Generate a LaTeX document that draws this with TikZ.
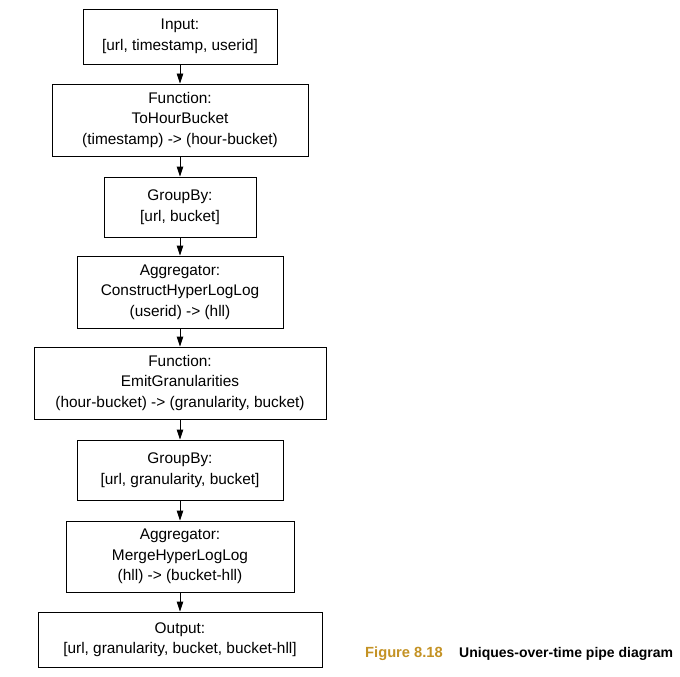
\documentclass[tikz,border=0pt]{standalone}
\usepackage{fontspec}
\setmainfont{Liberation Sans}
\usetikzlibrary{arrows.meta}
\definecolor{figgold}{RGB}{196,146,36}
\tikzset{
  stagebox/.style={draw=black, line width=0.9pt, inner sep=0pt, align=center,
    font=\fontsize{15.4}{20.5}\selectfont, anchor=center},
  flow/.style={line width=0.9pt, -{Triangle[length=10pt,width=6.5pt]}},
}
\begin{document}
\begin{tikzpicture}[x=1pt,y=1pt]
\useasboundingbox[fill=white] (0,0) rectangle (680,-677);
\node[stagebox, minimum width=194pt, minimum height=55pt] (in) at (180,-36.5) {Input:\\{}[url, timestamp, userid]};
\node[stagebox, minimum width=256pt, minimum height=72pt] (f1) at (180,-120) {Function:\\ToHourBucket\\(timestamp) -> (hour-bucket)};
\node[stagebox, minimum width=152pt, minimum height=60pt] (g1) at (180,-207) {GroupBy:\\{}[url, bucket]};
\node[stagebox, minimum width=206pt, minimum height=72pt] (a1) at (180,-292) {Aggregator:\\ConstructHyperLogLog\\(userid) -> (hll)};
\node[stagebox, minimum width=292pt, minimum height=72pt] (f2) at (180,-383) {Function:\\EmitGranularities\\(hour-bucket) -> (granularity, bucket)};
\node[stagebox, minimum width=206pt, minimum height=60pt] (g2) at (180,-470) {GroupBy:\\{}[url, granularity, bucket]};
\node[stagebox, minimum width=228pt, minimum height=71pt] (a2) at (180,-556.5) {Aggregator:\\MergeHyperLogLog\\(hll) -> (bucket-hll)};
\node[stagebox, minimum width=284pt, minimum height=55pt] (out) at (180,-639.5) {Output:\\{}[url, granularity, bucket, bucket-hll]};
\draw[flow] (in) -- (f1);
\draw[flow] (f1) -- (g1);
\draw[flow] (g1) -- (a1);
\draw[flow] (a1) -- (f2);
\draw[flow] (f2) -- (g2);
\draw[flow] (g2) -- (a2);
\draw[flow] (a2) -- (out);
\node[anchor=base west, inner sep=0pt, font=\fontsize{14.7}{16}\selectfont\bfseries, text=figgold] (fignum) at (365,-657) {Figure 8.18};
\node[anchor=base west, inner sep=0pt, font=\fontsize{14}{16}\selectfont\bfseries] (figcap) at (459,-657) {Uniques-over-time pipe diagram};
\end{tikzpicture}
\end{document}
